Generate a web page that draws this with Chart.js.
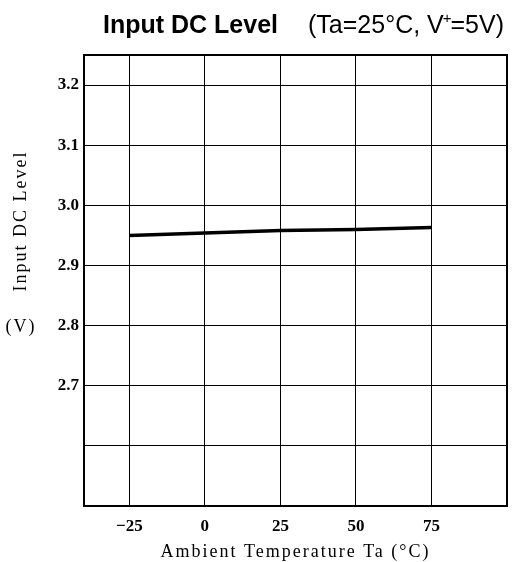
<!DOCTYPE html>
<html>
<head>
<meta charset="utf-8">
<script src="https://cdn.jsdelivr.net/npm/chart.js@4.4.1/dist/chart.umd.min.js"></script>
<style>
  html, body { margin: 0; padding: 0; background: #fff; }
  #wrap { width: 515px; height: 562px; position: relative; }
</style>
</head>
<body>
<div id="wrap"><canvas id="myChart"></canvas></div>
<script>
// values
const temps = [-25, 0, 25, 50, 75];
const levels = [2.950, 2.954, 2.958, 2.960, 2.963];
const xTicks = [-25, 0, 25, 50, 75];
const yTicks = [2.5, 2.6, 2.7, 2.8, 2.9, 3.0, 3.1, 3.2];
const yLabelled = [2.7, 2.8, 2.9, 3.0, 3.1, 3.2];

const serif = '"Liberation Serif", "Times New Roman", serif';
const sans = '"Liberation Sans", Arial, sans-serif';

// frame, titles
const decor = {
  id: "decor",
  afterDraw(chart) {
    const { ctx, chartArea: a } = chart;
    ctx.save();
    ctx.strokeStyle = "#000";
    ctx.lineWidth = 2;
    ctx.strokeRect(a.left, a.top, a.right - a.left, a.bottom - a.top);

    // top title
    ctx.fillStyle = "#000";
    ctx.textBaseline = "alphabetic";
    ctx.textAlign = "left";
    ctx.font = "bold 25px " + sans;
    ctx.fillText("Input DC Level", 103, 33);
    ctx.font = "25px " + sans;
    let x = 308;
    const p1 = "(Ta=25°C, V";
    ctx.fillText(p1, x, 33);
    x += ctx.measureText(p1).width;
    ctx.font = "15px " + sans;
    ctx.fillText("+", x - 1, 23);
    x += ctx.measureText("+").width - 2;
    ctx.font = "25px " + sans;
    ctx.fillText("=5V)", x, 33);

    // axis titles
    ctx.font = "18px " + serif;
    ctx.letterSpacing = "2px";
    ctx.textAlign = "center";
    ctx.textBaseline = "middle";
    ctx.fillText("Ambient Temperature Ta (°C)", (a.left + a.right) / 2, 552);
    ctx.fillText("(V)", 21, 327);
    ctx.translate(21, 221);
    ctx.rotate(-Math.PI / 2);
    ctx.fillText("Input DC Level", 0, 0);
    ctx.restore();
  }
};

new Chart(document.getElementById("myChart"), {
  type: "line",
  data: {
    datasets: [
      {
        data: temps.map((t, i) => ({ x: t, y: levels[i] })),
        borderColor: "#000",
        borderWidth: 3.5,
        pointRadius: 0,
        tension: 0,
      },
    ],
  },
  options: {
    responsive: true,
    maintainAspectRatio: false,
    animation: false,
    layout: { padding: { top: 55, right: 8, left: 0, bottom: 0 } },
    plugins: { legend: { display: false }, tooltip: { enabled: false } },
    scales: {
      x: {
        type: "linear",
        min: -40,
        max: 100,
        afterBuildTicks: (s) => { s.ticks = xTicks.map((v) => ({ value: v })); },
        afterFit: (s) => { s.height = 56; },
        grid: { color: "#000", lineWidth: 1, drawTicks: false },
        border: { display: false },
        ticks: {
          padding: 10,
          color: "#000",
          font: { family: serif, size: 17, weight: "bold" },
          callback: (v) => (v < 0 ? "\u2212" + Math.abs(v) : String(v)),
        },
      },
      y: {
        min: 2.5,
        max: 3.25,
        afterBuildTicks: (s) => { s.ticks = yTicks.map((v) => ({ value: v })); },
        afterFit: (s) => { s.width = 84; },
        grid: { color: "#000", lineWidth: 1, drawTicks: false },
        border: { display: false },
        ticks: {
          padding: 5,
          color: "#000",
          font: { family: serif, size: 17, weight: "bold" },
          callback: (v) => (yLabelled.some((t) => Math.abs(t - v) < 1e-6) ? v.toFixed(1) : ""),
        },
      },
    },
  },
  plugins: [decor],
});
</script>
</body>
</html>
